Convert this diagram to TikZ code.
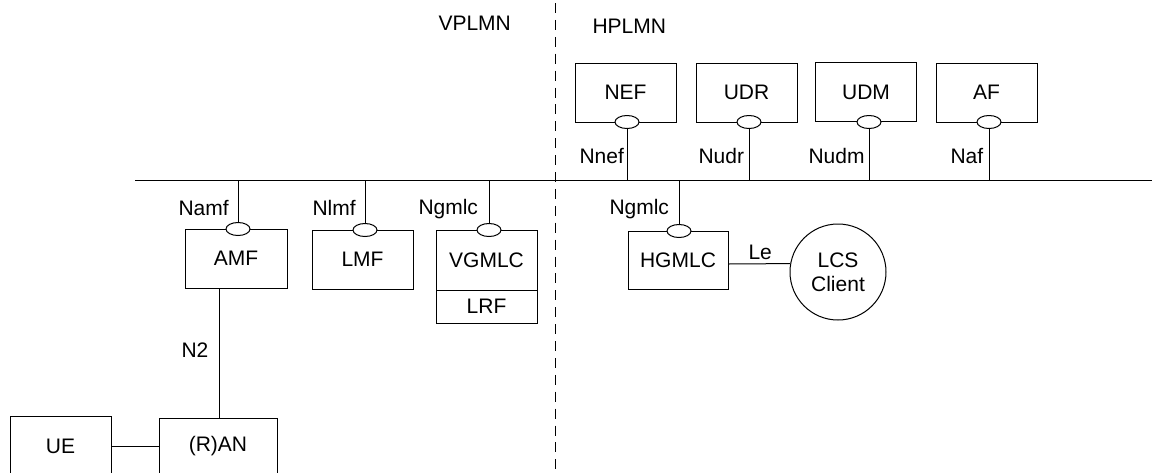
\documentclass[tikz,border=0pt]{standalone}
\usepackage{fontspec}
\setmainfont{Liberation Sans}
\usetikzlibrary{shapes.geometric}
\begin{document}
\begin{tikzpicture}[x=1pt,y=-1pt,
  font=\fontsize{21}{24}\selectfont,
  line width=1pt,
  nfbox/.style={draw, minimum width=101pt, minimum height=59pt, inner sep=0pt},
  svc/.style={draw, fill=white, ellipse, minimum width=24pt, minimum height=13pt, inner sep=0pt},
  lbl/.style={inner sep=0pt, anchor=base west},
  divider/.style={dash pattern=on 10pt off 6.9pt}]
\useasboundingbox (0,0) rectangle (1152,472);
\clip (0,0) rectangle (1152,472);

% bus and divider
\coordinate (busL) at (135,180);
\coordinate (busR) at (1152,180);
\coordinate (dtop) at (555,3);
\coordinate (dbot) at (555,472);
\draw (busL) -- (busR);
\draw[divider] (dtop) -- (dbot);

% PLMN labels
\node[lbl] (vplmn) at (438,30) {VPLMN};
\node[lbl] (hplmn) at (592,33) {HPLMN};

% top NFs
\node[nfbox] (nef) at (625.5,92.5) {NEF};
\node[nfbox] (udr) at (746.5,92.5) {UDR};
\node[nfbox] (udm) at (866,92) {UDM};
\node[nfbox] (af)  at (986.5,92.5) {AF};
\node[svc] (snef) at (627,122) {};
\node[svc] (sudr) at (749,122) {};
\node[svc] (sudm) at (869,122) {};
\node[svc] (saf)  at (989,122) {};
\draw (snef.south) -- (snef.south |- busL);
\draw (sudr.south) -- (sudr.south |- busL);
\draw (sudm.south) -- (sudm.south |- busL);
\draw (saf.south) -- (saf.south |- busL);
\node[lbl] (lnef) at (579,163) {Nnef};
\node[lbl] (ludr) at (698,163) {Nudr};
\node[lbl] (ludm) at (808,163) {Nudm};
\node[lbl] (laf)  at (950,163) {Naf};

% bottom NFs
\node[nfbox, minimum width=102pt] (amf) at (236,258.5) {AMF};
\node[nfbox] (lmf) at (362.5,259.5) {LMF};
\node[nfbox, minimum height=60pt] (vgmlc) at (486.5,260) {VGMLC};
\node[nfbox, minimum height=33pt] (lrf) at (486.5,306.5) {LRF};
\node[nfbox, minimum width=100pt, minimum height=58pt] (hgmlc) at (678,260) {HGMLC};
\node[svc] (samf) at (238,229) {};
\node[svc] (slmf) at (365,230) {};
\node[svc] (svgmlc) at (489,230) {};
\node[svc] (shgmlc) at (679,231) {};
\draw (samf.north) -- (samf.north |- busL);
\draw (slmf.north) -- (slmf.north |- busL);
\draw (svgmlc.north) -- (svgmlc.north |- busL);
\draw (shgmlc.north) -- (shgmlc.north |- busL);
\node[lbl] (lamf) at (178,215) {Namf};
\node[lbl] (llmf) at (312,215) {Nlmf};
\node[lbl] (lvgmlc) at (418,214) {Ngmlc};
\node[lbl] (lhgmlc) at (609,214) {Ngmlc};

% LCS client
\node[draw, circle, minimum size=96pt, inner sep=0pt, align=center] (lcs) at (838,272) {LCS\\Client};
\draw ([yshift=-4pt]hgmlc.east) -- (lcs.170.4);
\node[lbl] (lle) at (748,259) {Le};

% access
\node[nfbox, minimum height=60pt] (ue) at (60.5,446) {UE};
\node[nfbox, minimum width=118pt, minimum height=56pt] (ran) at (218,446) {(R)AN};
\draw (ue.east) -- (ran.west);
\coordinate (n2x) at (219,0);
\draw (amf.south -| n2x) -- (ran.north -| n2x);
\node[lbl] (ln2) at (181,357) {N2};
\end{tikzpicture}
\end{document}
